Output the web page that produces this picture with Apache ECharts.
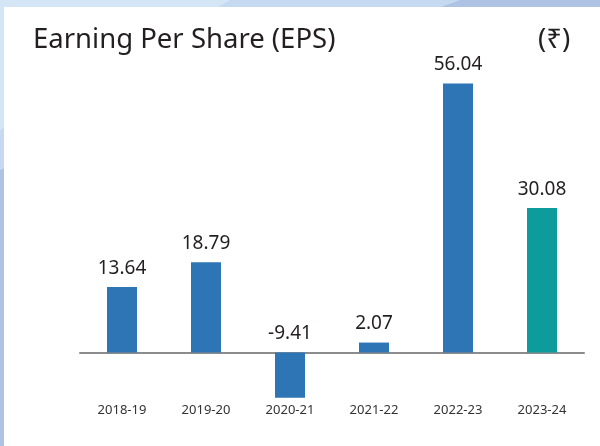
<!DOCTYPE html>
<html lang="en">
<head>
<meta charset="UTF-8">
<title>EPS</title>
<script src="https://cdn.jsdelivr.net/npm/echarts@6/dist/echarts.min.js"></script>
<style>
    * { margin: 0; padding: 0; }
    body {
        width: 600px;
        height: 446px;
        overflow: hidden;
        background: #aec3e4;
        position: relative;
    }
    .band {
        position: absolute;
        left: 0;
        top: 0;
        width: 600px;
        height: 446px;
    }
    .band.mid {
        background: #c5daf0;
        clip-path: polygon(0 0, 460px 0, 0 170px);
    }
    .band.light {
        background: #d4e5f5;
        clip-path: polygon(0 0, 230px 0, 0 130px);
    }
    .panel {
        position: absolute;
        left: 4px;
        top: 7px;
        width: 596px;
        height: 439px;
        background: #fff;
    }
    #chart {
        position: absolute;
        left: 0;
        top: 0;
        width: 600px;
        height: 446px;
    }
</style>
</head>
<body>
<div class="band mid"></div>
<div class="band light"></div>
<div class="panel"></div>
<div id="chart"></div>
<script>
    // data
    var years = ['2018-19', '2019-20', '2020-21', '2021-22', '2022-23', '2023-24'];
    var eps = [13.64, 18.79, -9.41, 2.07, 56.04, 30.08];
    var barColors = ['#2e75b6', '#2e75b6', '#2e75b6', '#2e75b6', '#2e75b6', '#0e9b9b'];

    var chart = echarts.init(document.getElementById('chart'));

    var option = {
        backgroundColor: 'transparent',
        title: [{
            text: 'Earning Per Share (EPS)',
            left: 28,
            top: 21,
            textStyle: { fontFamily: 'Noto Sans', fontSize: 27.5, fontWeight: 'normal', color: '#231f20' }
        }, {
            text: '(₹)',
            left: 533,
            top: 21,
            textStyle: { fontFamily: 'Noto Sans', fontSize: 27.5, fontWeight: 'normal', color: '#231f20' }
        }],
        grid: { left: 80, right: 16, top: 64.5, height: 336, outerBoundsMode: 'none', containLabel: false },
        xAxis: {
            type: 'category',
            data: years,
            axisLine: { onZero: true, lineStyle: { color: '#8c8c8c', width: 2 } },
            axisTick: { show: false },
            axisLabel: { margin: 3, fontFamily: 'Noto Sans', fontSize: 13, color: '#333' }
        },
        yAxis: {
            type: 'value',
            min: -10,
            max: 60,
            show: false
        },
        series: [{
            type: 'bar',
            barWidth: 30,
            data: eps.map(function (v, i) {
                return { value: v, itemStyle: { color: barColors[i] } };
            }),
            label: {
                show: true,
                position: 'top',
                distance: 9,
                fontFamily: 'Noto Sans',
                fontSize: 19,
                color: '#231f20'
            }
        }]
    };

    chart.setOption(option);
</script>
</body>
</html>
